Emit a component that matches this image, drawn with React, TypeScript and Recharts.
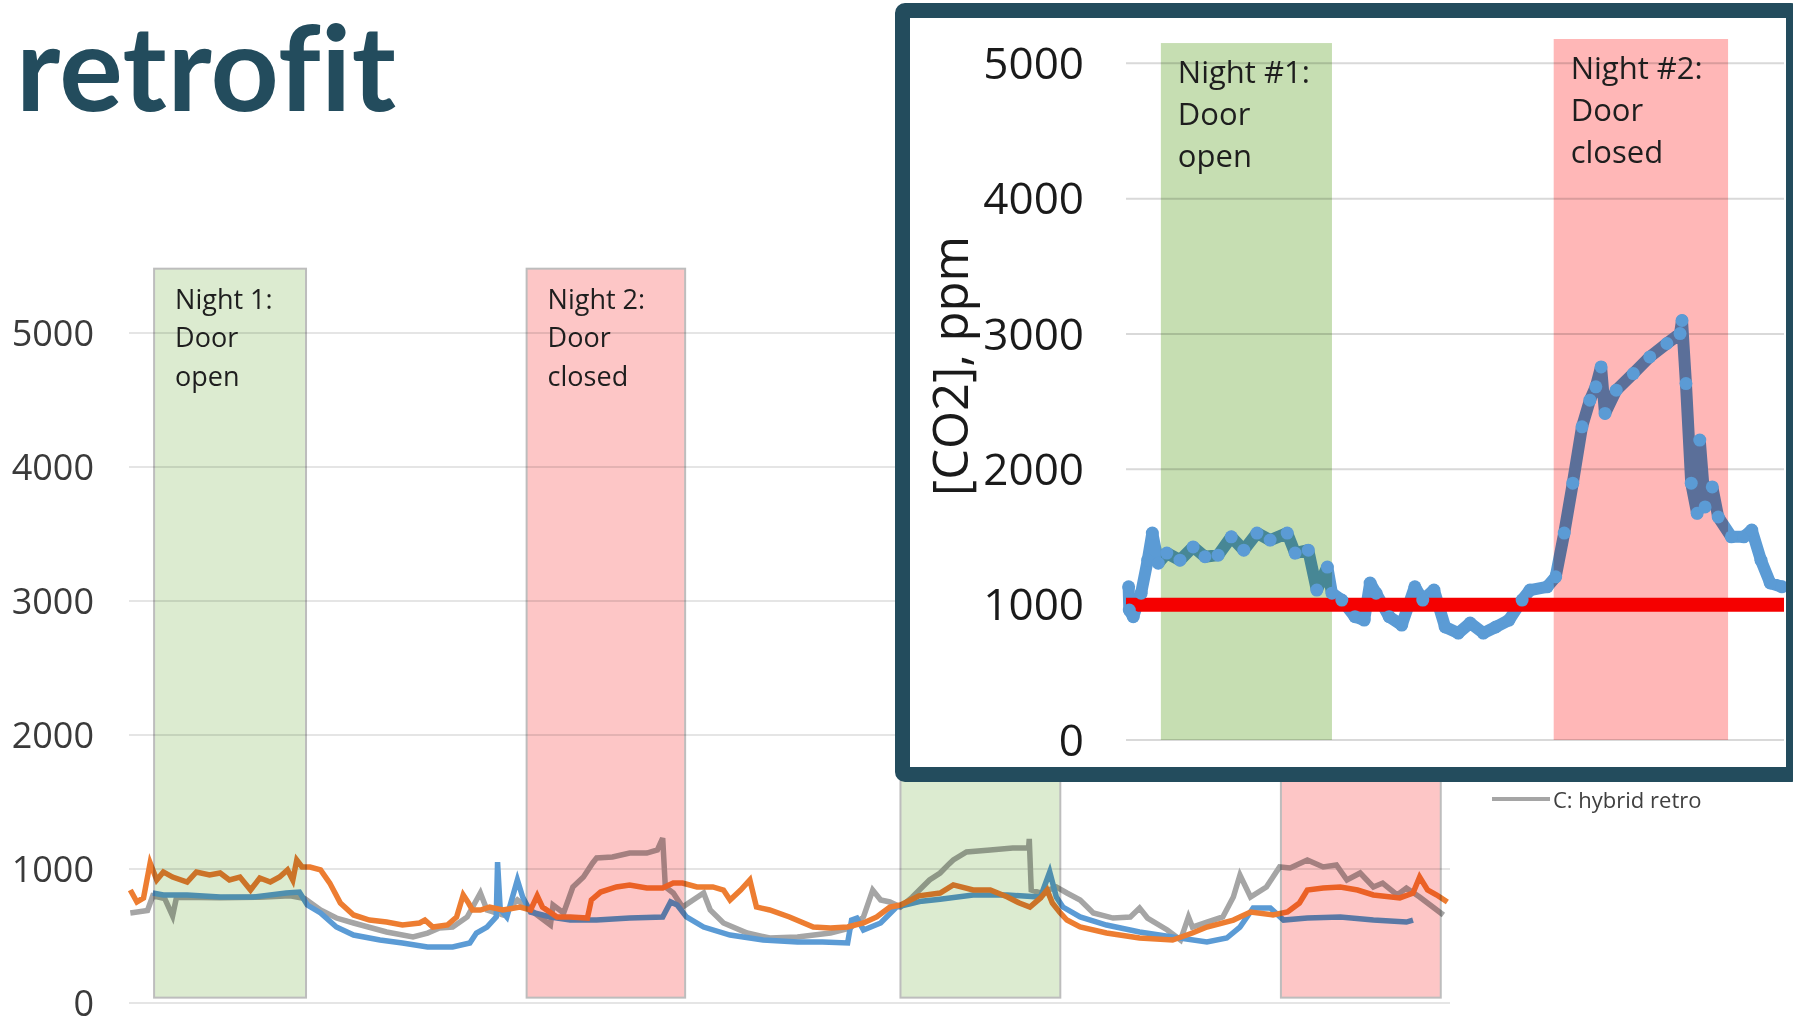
import React from "react";
import { LineChart, Line, XAxis, YAxis, CartesianGrid, ReferenceArea, ReferenceLine } from "recharts";

// time axis is in hours-ish units, 0..100 across each chart
const yTicks = [0, 1000, 2000, 3000, 4000, 5000];

// background chart: four nights
const nights = [
  { from: 1.9, to: 13.4, fill: "#dcebd0", lines: ["Night 1:", "Door", "open"] },
  { from: 30.1, to: 42.1, fill: "#fdc6c6", lines: ["Night 2:", "Door", "closed"] },
  { from: 58.4, to: 70.5, fill: "#dcebd0", lines: [] as string[] },
  { from: 87.2, to: 99.3, fill: "#fdc6c6", lines: [] as string[] },
];

const orangePts: [number, number][] = [
  [0.1, 843], [0.6, 754], [1.1, 784], [1.6, 1045], [2.1, 918], [2.6, 978], [3.3, 940], [4.4, 903],
  [5.1, 978], [6.1, 955], [6.9, 970], [7.6, 918], [8.4, 940], [9.2, 843], [9.9, 933], [10.7, 903],
  [11.4, 940], [12.0, 993], [12.4, 918], [12.7, 1067], [13.1, 1015], [13.7, 1015], [14.5, 993],
  [15.2, 895], [16.0, 746], [17.0, 657], [18.2, 619], [19.5, 604], [20.7, 582], [22.0, 597],
  [22.4, 619], [23.0, 567], [24.1, 582], [24.8, 642], [25.3, 806], [25.7, 746], [26.0, 694],
  [26.6, 694], [27.3, 716], [28.3, 694], [29.6, 716], [30.4, 694], [30.9, 800], [31.3, 716],
  [32.4, 642], [33.4, 642], [34.7, 634], [35.0, 769], [35.7, 828], [36.9, 866], [37.9, 881],
  [39.2, 858], [40.4, 858], [41.2, 895], [41.9, 895], [43.0, 866], [44.2, 866], [45.0, 843],
  [45.5, 769], [46.3, 843], [47.0, 918], [47.5, 716], [48.5, 694], [50.0, 642], [51.8, 567],
  [53.1, 560], [54.4, 567], [55.6, 597], [56.6, 642], [57.1, 679], [57.6, 716], [58.4, 731],
  [59.8, 800], [61.4, 821], [62.4, 881], [63.9, 843], [65.2, 843], [66.5, 791], [67.4, 746],
  [68.2, 716], [69.0, 784], [69.5, 843], [69.9, 746], [70.5, 672], [71.0, 619], [72.0, 567],
  [74.0, 522], [76.5, 485], [79.0, 470], [80.5, 522], [81.6, 567], [83.6, 619], [84.9, 679],
  [86.6, 657], [87.7, 679], [88.6, 746], [89.2, 843], [90.4, 858], [91.7, 866], [93.0, 843],
  [94.2, 806], [96.2, 784], [97.2, 821], [97.7, 940], [98.3, 843], [99.0, 806], [99.8, 754],
];

const bluePts: [number, number][] = [
  [1.8, 821], [2.6, 806], [4.4, 806], [6.9, 791], [9.4, 791], [11.9, 821], [12.9, 828], [13.5, 731],
  [14.5, 672], [15.7, 567], [17.0, 507], [19.0, 470], [20.7, 448], [22.6, 418], [24.5, 418],
  [25.8, 448], [26.3, 522], [27.1, 567], [27.8, 642], [27.9, 1052], [28.1, 700], [28.6, 642],
  [29.4, 918], [29.8, 791], [30.4, 679], [31.9, 642], [33.4, 619], [35.4, 619], [37.9, 634],
  [40.4, 642], [41.0, 754], [41.5, 731], [42.2, 642], [43.5, 567], [45.5, 507], [48.0, 470],
  [50.6, 455], [52.5, 455], [54.4, 448], [54.7, 619], [55.1, 634], [55.6, 545], [56.9, 597],
  [58.1, 716], [60.0, 760], [61.4, 775], [63.9, 806], [66.5, 806], [69.0, 791], [69.7, 978],
  [70.2, 791], [70.7, 716], [72.0, 642], [74.0, 582], [76.5, 530], [79.0, 493], [81.6, 455],
  [83.1, 485], [84.1, 567], [85.1, 709], [86.4, 709], [87.4, 619], [89.2, 634], [91.7, 642],
  [94.2, 619], [96.7, 604], [97.2, 619],
];

const grayPts: [number, number][] = [
  [0.1, 672], [1.4, 690], [1.8, 800], [2.7, 780], [3.3, 650], [3.6, 790], [6.9, 785], [9.9, 790],
  [12.2, 800], [13.3, 780], [14.5, 694], [15.7, 634], [17.0, 597], [19.5, 530], [21.5, 493],
  [22.6, 522], [23.5, 560], [24.5, 567], [25.6, 642], [26.6, 821], [27.1, 694], [28.3, 657],
  [29.4, 769], [30.4, 694], [30.9, 657], [31.9, 582], [32.1, 731], [32.9, 672], [33.6, 866],
  [34.4, 940], [35.1, 1045], [35.4, 1082], [36.6, 1090], [37.9, 1119], [39.2, 1119], [40.0, 1142],
  [40.4, 1230], [40.6, 866], [41.2, 821], [41.9, 716], [42.7, 769], [43.5, 821], [44.0, 694],
  [45.0, 597], [46.8, 522], [48.5, 485], [50.6, 493], [53.1, 522], [54.6, 560], [55.6, 642],
  [56.3, 843], [56.9, 769], [57.6, 754], [58.4, 716], [59.3, 791], [60.6, 918], [61.4, 970],
  [62.1, 1040], [62.4, 1067], [63.4, 1127], [65.2, 1142], [66.9, 1157], [68.1, 1157], [68.15, 1225],
  [68.3, 843], [69.0, 821], [70.2, 866], [71.0, 821], [72.0, 769], [73.0, 672], [74.5, 634],
  [75.8, 642], [76.5, 709], [77.1, 634], [78.6, 545], [79.6, 470], [80.2, 642], [80.5, 567],
  [81.6, 604], [82.8, 642], [83.6, 791], [84.1, 955], [84.9, 791], [86.1, 866], [87.1, 1015],
  [87.9, 1007], [89.2, 1067], [90.4, 1015], [91.4, 1030], [92.2, 918], [93.2, 970], [94.2, 866],
  [94.9, 895], [96.0, 806], [96.7, 858], [97.7, 791], [98.7, 716], [99.5, 657],
];

// inset: one room, two nights, with the 1000 ppm guideline
const insetNights = [
  { from: 5.3, to: 31.3, top: 5150, fill: "#c6deb2", lines: ["Night #1:", "Door", "open"] },
  { from: 65.0, to: 91.5, top: 5180, fill: "#ffb7b7", lines: ["Night #2:", "Door", "closed"] },
];

const insetPts: [number, number][] = [
  [0.4, 1132], [0.5, 960], [1.1, 911], [2.3, 1085], [3.3, 1329], [4.0, 1529], [4.9, 1307],
  [6.2, 1381], [8.2, 1329], [10.2, 1427], [12.0, 1354], [14.0, 1366], [16.0, 1501], [17.9, 1403],
  [19.9, 1529], [21.9, 1477], [24.5, 1529], [25.7, 1381], [27.7, 1403], [29.0, 1108], [30.6, 1278],
  [31.3, 1085], [32.8, 1034], [34.8, 911], [36.2, 886], [37.1, 1160], [38.0, 1085], [40.0, 911],
  [41.9, 849], [43.9, 1132], [45.1, 1034], [46.8, 1108], [48.5, 835], [50.5, 790], [52.3, 864],
  [54.3, 790], [56.2, 835], [58.2, 886], [60.2, 1034], [61.4, 1108], [64.0, 1132], [65.3, 1206],
  [66.6, 1529], [67.9, 1898], [69.3, 2314], [70.5, 2511], [71.4, 2610], [72.2, 2757], [72.8, 2413],
  [74.5, 2585], [77.1, 2708], [79.6, 2831], [82.2, 2930], [84.2, 3003], [84.5, 3100], [85.1, 2634],
  [85.9, 1898], [86.8, 1675], [87.2, 2216], [88.0, 1722], [89.1, 1870], [90.0, 1648], [92.0, 1501],
  [93.9, 1501], [95.1, 1551], [96.5, 1329], [97.9, 1160], [99.7, 1132],
];

const guideline = 1000;

const toRows = (pts: [number, number][]) => pts.map(([t, ppm]) => ({ t, ppm }));

const teal = "#234c5d";

// shaded night blocks are blended over the lines like the original overlay
const blendRect = (fill: string, stroke: string) => (p: any) => (
  <rect
    x={p.x}
    y={p.y}
    width={p.width}
    height={p.height}
    fill={fill}
    stroke={stroke}
    strokeWidth={2}
    style={{ mixBlendMode: "multiply" }}
  />
);

const NightLabel = (props: any) => {
  const { viewBox, lines, size, offX, offY, step } = props;
  if (!viewBox || !lines || !lines.length) return null;
  const x = viewBox.x + offX;
  return (
    <text x={x} y={viewBox.y + offY} fontSize={size} fill="#1e1e1e" fontFamily="Open Sans">
      {lines.map((l: string, i: number) => (
        <tspan key={i} x={x} dy={i === 0 ? 0 : step}>
          {l}
        </tspan>
      ))}
    </text>
  );
};

export default function App() {
  return (
    <div
      style={{
        position: "absolute",
        left: 0,
        top: 0,
        width: 1793,
        height: 1020,
        overflow: "hidden",
        background: "#fff",
        fontFamily: "Open Sans",
      }}
    >
      <div
        style={{
          position: "absolute",
          left: 16,
          top: -6,
          fontFamily: "Lato",
          fontWeight: 700,
          fontSize: 119,
          color: teal,
          letterSpacing: 0.5,
        }}
      >
        retrofit
      </div>

      {/* background chart */}
      <div style={{ position: "absolute", left: 0, top: 0 }}>
        <LineChart width={1460} height={1020} margin={{ top: 266, right: 10, bottom: 17, left: 0 }} style={{ overflow: "visible" }}>
          <CartesianGrid vertical={false} horizontalValues={yTicks} stroke="#dcdcdc" strokeWidth={1.5} />
          <XAxis type="number" dataKey="t" domain={[0, 100]} hide />
          <YAxis
            type="number"
            domain={[0, 5500]}
            ticks={yTicks}
            interval={0}
            width={129}
            axisLine={false}
            tickLine={false}
            tickMargin={29}
            tick={{ fontSize: 36, fill: "#3a3a3a", fontFamily: "Open Sans" }}
          />
          <Line data={toRows(grayPts)} dataKey="ppm" stroke="#a5a5a5" strokeWidth={5.5} dot={false} isAnimationActive={false} />
          <Line data={toRows(bluePts)} dataKey="ppm" stroke="#5b9bd5" strokeWidth={5.5} dot={false} isAnimationActive={false} />
          <Line data={toRows(orangePts)} dataKey="ppm" stroke="#ed7d31" strokeWidth={5.5} dot={false} isAnimationActive={false} />
          {nights.map((n, i) => (
            <ReferenceArea
              key={i}
              x1={n.from}
              x2={n.to}
              y1={40}
              y2={5480}
              zIndex={450}
              shape={blendRect(n.fill, "#bdbdbd")}
              label={<NightLabel lines={n.lines} size={27} offX={21} offY={40} step={38.5} />}
            />
          ))}
        </LineChart>
      </div>

      {/* legend entry left visible below the inset */}
      <div style={{ position: "absolute", left: 1492, top: 784, display: "flex", alignItems: "center" }}>
        <svg width={58} height={26}>
          <line x1={0} y1={13} x2={58} y2={13} stroke="#a5a5a5" strokeWidth={4} />
        </svg>
        <span style={{ fontSize: 22, color: "#404040", marginLeft: 3 }}>C: hybrid retro</span>
      </div>

      {/* inset */}
      <div
        style={{
          position: "absolute",
          left: 895,
          top: 3,
          width: 906,
          height: 779,
          boxSizing: "border-box",
          border: `15px solid ${teal}`,
          borderRadius: 10,
          background: "#fff",
        }}
      >
        <div style={{ position: "absolute", left: 0, top: 0 }}>
          <LineChart width={876} height={749} margin={{ top: 21, right: 2, bottom: 27, left: 0 }}>
            <CartesianGrid vertical={false} horizontalValues={yTicks} stroke="#d9d9d9" strokeWidth={2} />
            <XAxis type="number" dataKey="t" domain={[0, 100]} hide />
            <YAxis
              type="number"
              domain={[0, 5180]}
              ticks={yTicks}
              interval={0}
              width={216}
              axisLine={false}
              tickLine={false}
              tickMargin={36}
              tick={{ fontSize: 44, fill: "#1a1a1a", fontFamily: "Open Sans" }}
            />
            <Line
              data={toRows(insetPts)}
              dataKey="ppm"
              stroke="#5b9bd5"
              strokeWidth={12}
              strokeLinejoin="round"
              dot={{ r: 6.5, fill: "#5b9bd5", stroke: "none" }}
              isAnimationActive={false}
            />
            {insetNights.map((n, i) => (
              <ReferenceArea
                key={i}
                x1={n.from}
                x2={n.to}
                y1={0}
                y2={n.top}
                zIndex={450}
                shape={blendRect(n.fill, "none")}
                label={<NightLabel lines={n.lines} size={31} offX={17} offY={40} step={42} />}
              />
            ))}
            <ReferenceLine y={guideline} stroke="#f50000" strokeWidth={14} zIndex={460} />
          </LineChart>
        </div>
      </div>

      <div
        style={{
          position: "absolute",
          left: 949,
          top: 366,
          transform: "translate(-50%, -50%) rotate(-90deg)",
          fontSize: 49,
          color: "#1a1a1a",
          whiteSpace: "nowrap",
        }}
      >
        [CO2], ppm
      </div>
    </div>
  );
}
